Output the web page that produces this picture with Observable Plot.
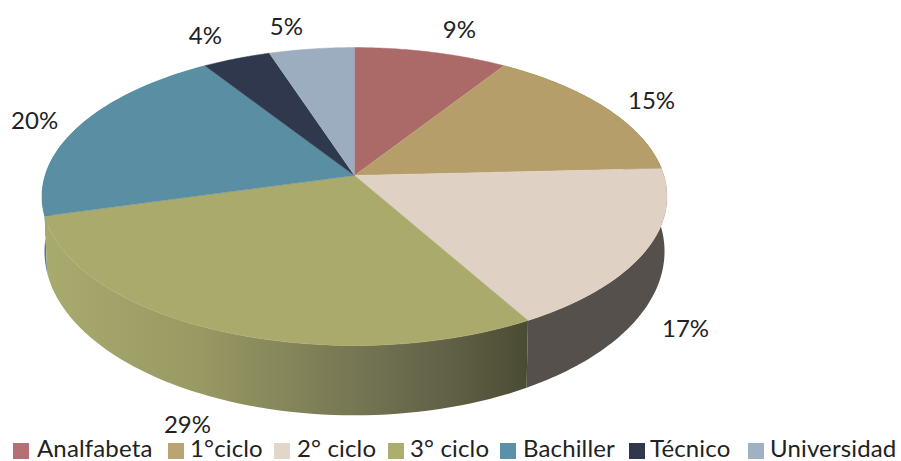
<!DOCTYPE html>
<html><head><meta charset="utf-8">
<script src="https://cdn.jsdelivr.net/npm/d3@7"></script>
<script src="https://cdn.jsdelivr.net/npm/@observablehq/plot@0.6"></script>
<style>
html,body{margin:0;padding:0;background:#fff;overflow:hidden}
#chart svg{display:block}
#legend{position:relative;height:20px;font:24px Lato,sans-serif;letter-spacing:.15px;color:#222}
#legend span{position:absolute;white-space:nowrap;line-height:20px;top:-3px}
#legend i{position:absolute;top:2px;width:15.5px;height:16px}
</style></head><body>
<div id="chart"></div><div id="legend"></div>
<script>
const categories = ["Analfabeta","1°ciclo","2° ciclo","3° ciclo","Bachiller","Técnico","Universidad"];
const values = [9,15,17.4,28.6,20,4,5];
const labels = ["9%","15%","17%","29%","20%","4%","5%"];
const topColors = ["#ab6a68","#b59e6a","#dfd1c3","#aaaa6c","#5a8ea3","#2f384c","#9badbf"];
const legendColors = ["#b56f75","#bba373","#e2d5ca","#adad6f","#5b91a8","#2f384c","#a0b1c4"];
const wallColors = ["#6a4240","#6f6240","#55504c","url(#wall3)","#4d7f93","#20263a","#6d7a88"];
const labelX = [0.339,0.960,1.070,-0.540,-1.034,-0.482,-0.220];
const labelY = [0.993,0.507,-1.055,-1.712,0.370,0.952,1.014];
const legendSwatchX = [13,168,274,388,500,629,748];
const legendTextX = [37,190,297,410,523,650,770];

const tilt = 0.1412, shrink = 0.992, stretch = 1.1, drop = -0.3616;
const total = d3.sum(values);
const stops = d3.cumsum(values).map(d => d / total);
const project = (a) => {
  const u = Math.sin(a * 2 * Math.PI), v = Math.cos(a * 2 * Math.PI), w = 1 + tilt * v;
  return {x: u / w, y: v / w};
};
const lower = (a) => {
  const p = project(a);
  return {x: shrink * p.x, y: stretch * p.y + drop};
};
const arc = (i) => {
  const a0 = i ? stops[i - 1] : 0, a1 = stops[i];
  return d3.range(0, 61).map(k => a0 + (a1 - a0) * k / 60);
};
const topPoly = values.map((_, i) => [{x: 0, y: 0}, ...arc(i).map(project)]);
const wallPoly = values.map((_, i) => [
  ...arc(i).map(project),
  ...arc(i).reverse().map(lower)
]);
const lbl = labels.map((t, i) => ({t, x: labelX[i], y: labelY[i]}));
const defs = () => {
  const d = d3.create("svg:defs");
  const g = d.append("linearGradient").attr("id", "wall3");
  [[0,"#a9aa6e"],[.3,"#9a9b64"],[.5,"#85865a"],[.7,"#6f7050"],[.85,"#5e5f44"],[1,"#4a4b33"]]
    .forEach(([o,c]) => g.append("stop").attr("offset", o).attr("stop-color", c));
  return d.node();
};
const x = d => d.x, y = d => d.y;
const plot = Plot.plot({
  width: 901, height: 441, margin: 0,
  x: {domain: [-1, 1], range: [44.6, 663.4], axis: null},
  y: {domain: [-1, 1], range: [321, 29], axis: null},
  style: {background: "#fff"},
  marks: [
    defs,
    ...[1, 2, 4, 3].map(i => Plot.line(wallPoly[i], {x, y, fill: wallColors[i], stroke: "none", curve: "linear"})),
    ...topPoly.map((p, i) => Plot.line(p, {x, y, fill: topColors[i], stroke: topColors[i], strokeWidth: 0.5, curve: "linear"})),
    Plot.text(lbl, {x, y, text: "t", fontSize: 24, fontFamily: "Lato, sans-serif", fill: "#222"})
  ]
});
document.getElementById("chart").append(plot);
const L = document.getElementById("legend");
categories.forEach((c, i) => {
  const sw = document.createElement("i");
  sw.style.left = legendSwatchX[i] + "px"; sw.style.background = legendColors[i];
  const t = document.createElement("span");
  t.style.left = legendTextX[i] + "px"; t.textContent = c;
  L.append(sw, t);
});
</script></body></html>
